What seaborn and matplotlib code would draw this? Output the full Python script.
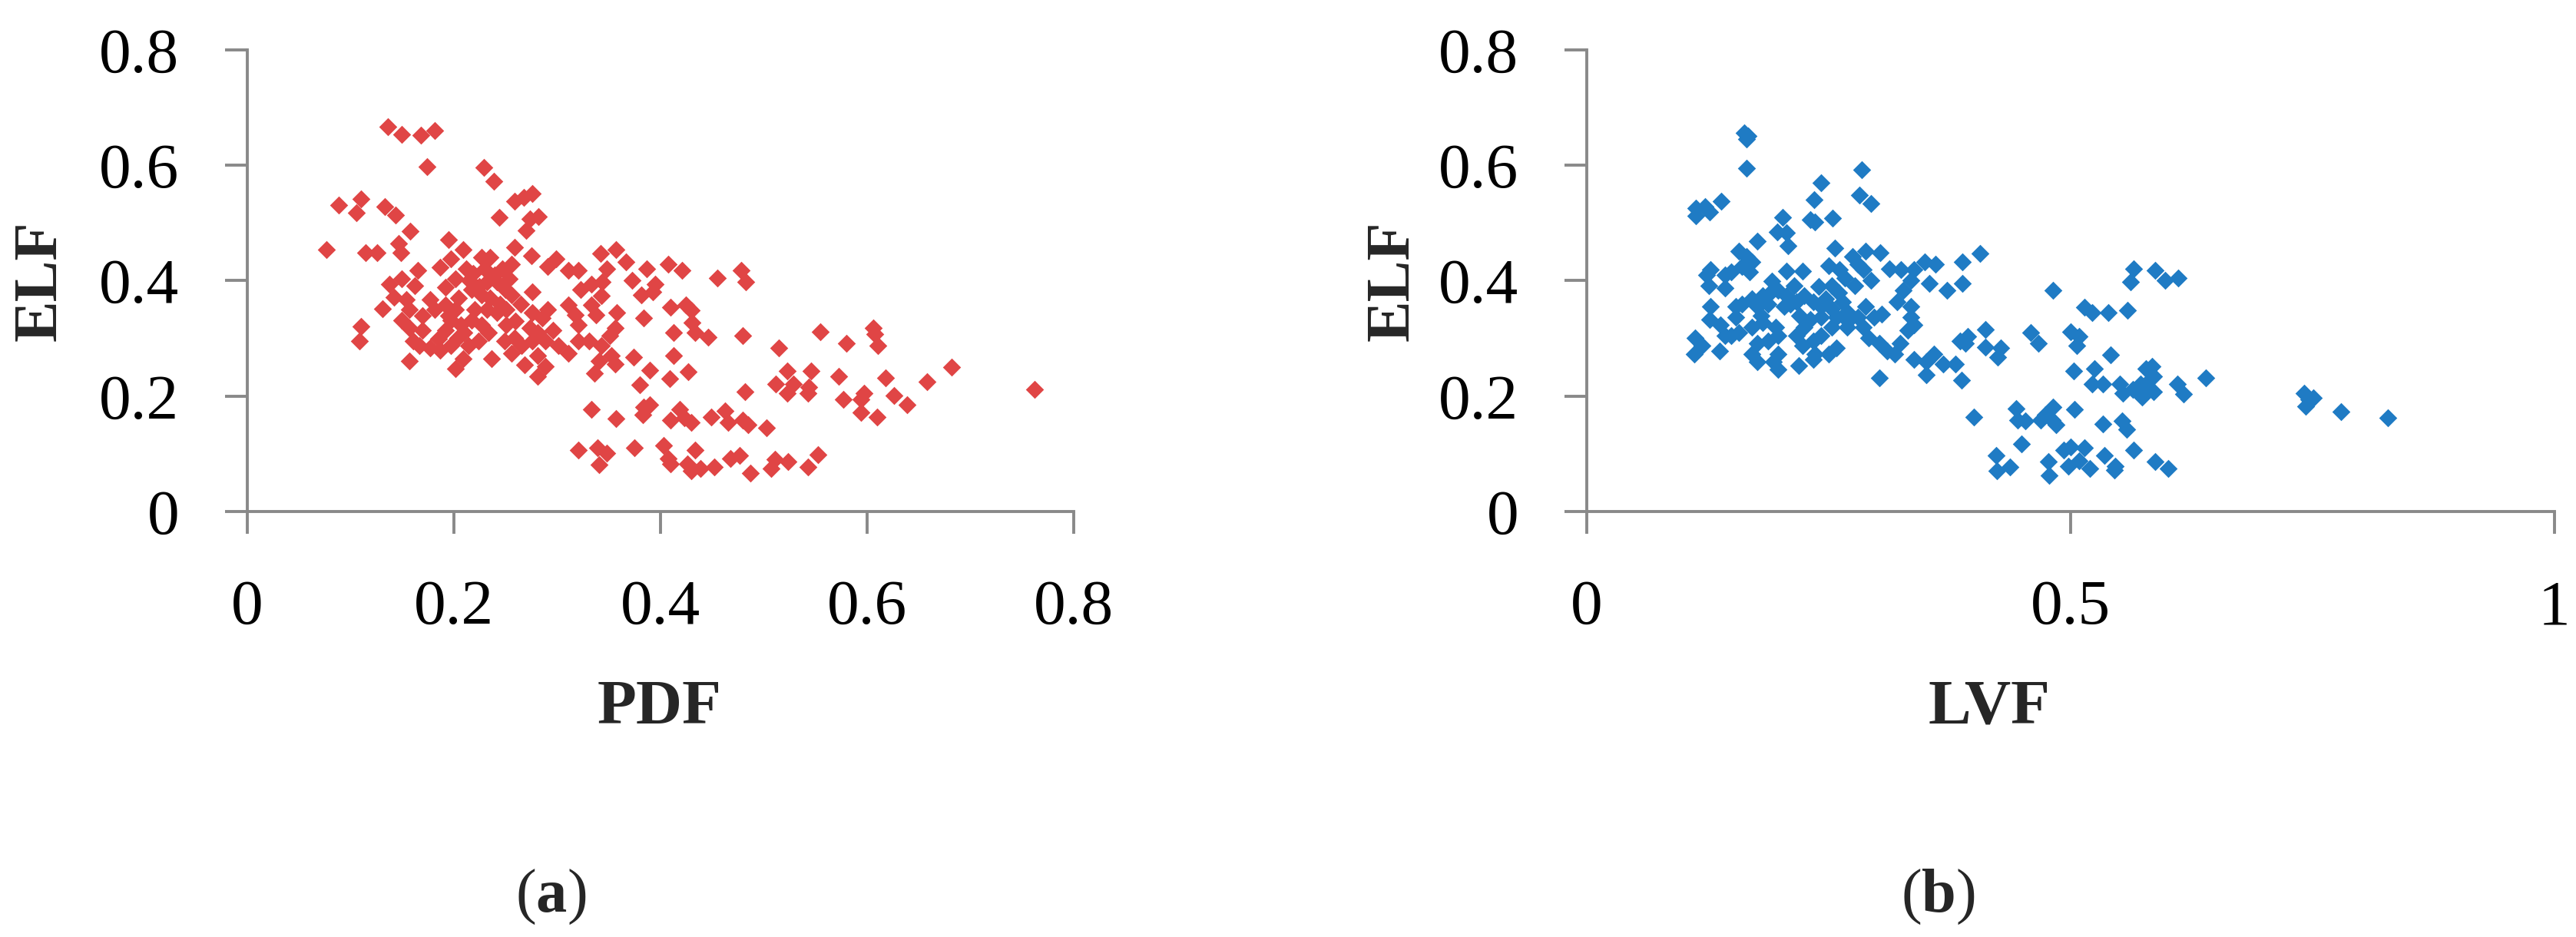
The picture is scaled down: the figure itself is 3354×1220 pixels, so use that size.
import matplotlib
matplotlib.use("Agg")
import matplotlib.pyplot as plt
import seaborn as sns
import pandas as pd

# ---------------- data ----------------
# panel (a): PDF vs ELF
pdf_x = [
    0.136, 0.150, 0.168, 0.182, 0.174, 0.229, 0.239, 0.259, 0.268, 0.276,
    0.244, 0.274, 0.282, 0.270, 0.089, 0.110, 0.106, 0.133, 0.144, 0.158,
    0.077, 0.115, 0.126, 0.147, 0.149, 0.195, 0.209, 0.165, 0.187, 0.197,
    0.227, 0.235, 0.259, 0.275, 0.247, 0.256, 0.291, 0.299, 0.311, 0.321,
    0.342, 0.357, 0.367, 0.348, 0.408, 0.387, 0.373, 0.395, 0.382, 0.393,
    0.323, 0.333, 0.344, 0.343, 0.333, 0.338, 0.358, 0.356, 0.351, 0.384,
    0.410, 0.413, 0.413, 0.276, 0.138, 0.150, 0.162, 0.142, 0.154, 0.157,
    0.131, 0.110, 0.109, 0.150, 0.157, 0.170, 0.161, 0.177, 0.192, 0.202,
    0.212, 0.219, 0.217, 0.227, 0.232, 0.242, 0.254, 0.256, 0.251, 0.242,
    0.232, 0.202, 0.192, 0.182, 0.197, 0.192, 0.207, 0.217, 0.227, 0.234,
    0.224, 0.214, 0.204, 0.197, 0.187, 0.177, 0.167, 0.157, 0.202, 0.209,
    0.237, 0.251, 0.259, 0.266, 0.256, 0.249, 0.276, 0.291, 0.286, 0.274,
    0.281, 0.296, 0.289, 0.276, 0.301, 0.311, 0.281, 0.289, 0.269, 0.281,
    0.311, 0.318, 0.321, 0.321, 0.331, 0.343, 0.353, 0.341, 0.356, 0.336,
    0.374, 0.390, 0.409, 0.380, 0.333, 0.357, 0.384, 0.390, 0.383, 0.410,
    0.321, 0.339, 0.348, 0.341, 0.375, 0.403, 0.408, 0.410,
    0.215, 0.225, 0.235, 0.245, 0.205, 0.220, 0.230, 0.240, 0.250, 0.195,
    0.210, 0.260, 0.265, 0.185, 0.170,
    0.421, 0.455, 0.478, 0.483, 0.425, 0.430, 0.431, 0.434, 0.446, 0.480,
    0.427, 0.555, 0.580, 0.606, 0.608, 0.611, 0.515, 0.523, 0.546, 0.512,
    0.529, 0.544, 0.523, 0.543, 0.482, 0.573, 0.618, 0.658, 0.682, 0.762,
    0.577, 0.597, 0.594, 0.626, 0.639, 0.594, 0.610, 0.419, 0.423, 0.430,
    0.449, 0.463, 0.466, 0.480, 0.485, 0.503, 0.434, 0.426, 0.430, 0.439,
    0.452, 0.468, 0.477, 0.487, 0.507, 0.511, 0.524, 0.543, 0.553,
]
elf_a = [
    0.667, 0.653, 0.652, 0.660, 0.598, 0.596, 0.573, 0.538, 0.545, 0.551,
    0.510, 0.507, 0.511, 0.487, 0.531, 0.542, 0.518, 0.529, 0.514, 0.486,
    0.454, 0.449, 0.449, 0.465, 0.449, 0.471, 0.454, 0.418, 0.423, 0.438,
    0.440, 0.440, 0.458, 0.443, 0.420, 0.429, 0.425, 0.438, 0.418, 0.418,
    0.447, 0.454, 0.432, 0.420, 0.429, 0.420, 0.400, 0.394, 0.376, 0.381,
    0.385, 0.394, 0.398, 0.374, 0.358, 0.341, 0.345, 0.318, 0.305, 0.336,
    0.354, 0.310, 0.270, 0.381, 0.394, 0.403, 0.392, 0.372, 0.367, 0.350,
    0.352, 0.321, 0.296, 0.332, 0.318, 0.314, 0.296, 0.367, 0.389, 0.403,
    0.420, 0.412, 0.385, 0.376, 0.398, 0.398, 0.403, 0.376, 0.350, 0.345,
    0.350, 0.350, 0.358, 0.350, 0.332, 0.314, 0.323, 0.332, 0.323, 0.310,
    0.296, 0.287, 0.301, 0.287, 0.279, 0.283, 0.287, 0.261, 0.248, 0.265,
    0.265, 0.323, 0.301, 0.287, 0.274, 0.296, 0.345, 0.350, 0.336, 0.318,
    0.310, 0.314, 0.296, 0.296, 0.287, 0.274, 0.270, 0.252, 0.254, 0.234,
    0.358, 0.341, 0.323, 0.296, 0.296, 0.287, 0.270, 0.261, 0.256, 0.239,
    0.267, 0.245, 0.230, 0.219, 0.177, 0.161, 0.181, 0.185, 0.168, 0.159,
    0.106, 0.110, 0.101, 0.081, 0.110, 0.114, 0.092, 0.083,
    0.400, 0.390, 0.370, 0.360, 0.370, 0.350, 0.420, 0.410, 0.385, 0.340,
    0.310, 0.330, 0.360, 0.300, 0.340,
    0.418, 0.404, 0.418, 0.398, 0.358, 0.349, 0.327, 0.310, 0.302, 0.305,
    0.242, 0.312, 0.292, 0.318, 0.307, 0.287, 0.283, 0.244, 0.243, 0.221,
    0.221, 0.216, 0.205, 0.205, 0.208, 0.234, 0.232, 0.225, 0.250, 0.212,
    0.195, 0.205, 0.194, 0.201, 0.185, 0.172, 0.164, 0.177, 0.163, 0.154,
    0.164, 0.174, 0.154, 0.159, 0.150, 0.145, 0.106, 0.083, 0.070, 0.074,
    0.077, 0.092, 0.097, 0.066, 0.074, 0.090, 0.086, 0.077, 0.099,
]

# panel (b): LVF vs ELF
lvf_x = [
    0.163, 0.167, 0.165, 0.165, 0.284, 0.242, 0.235, 0.282, 0.294, 0.113,
    0.122, 0.127, 0.113, 0.139, 0.202, 0.231, 0.236, 0.254, 0.197, 0.206,
    0.208, 0.176, 0.256, 0.288, 0.303, 0.275, 0.280, 0.157, 0.165, 0.171,
    0.160, 0.168, 0.149, 0.143, 0.128, 0.124, 0.126, 0.143, 0.206, 0.223,
    0.250, 0.261, 0.267, 0.253, 0.277, 0.294, 0.286, 0.313, 0.325, 0.338,
    0.349, 0.360, 0.335, 0.327, 0.354, 0.372, 0.388, 0.388, 0.191, 0.214,
    0.198, 0.206, 0.182, 0.171, 0.176, 0.187, 0.204, 0.217, 0.225, 0.234,
    0.242, 0.247, 0.253, 0.264, 0.269, 0.258, 0.253, 0.242, 0.231, 0.225,
    0.128, 0.154, 0.154, 0.127, 0.138, 0.143, 0.157, 0.149, 0.171, 0.182,
    0.195, 0.198, 0.187, 0.176, 0.171, 0.176, 0.198, 0.198, 0.193, 0.217,
    0.223, 0.234, 0.242, 0.236, 0.234, 0.250, 0.258, 0.219, 0.269, 0.280,
    0.288, 0.297, 0.305, 0.286, 0.291, 0.302, 0.310, 0.318, 0.324, 0.321,
    0.335, 0.335, 0.338, 0.332, 0.112, 0.119, 0.111, 0.137, 0.302, 0.338,
    0.351, 0.359, 0.368, 0.351, 0.381, 0.387, 0.386,
    0.190, 0.210, 0.220, 0.260, 0.270, 0.240, 0.180, 0.160,
    0.406, 0.565, 0.562, 0.587, 0.598, 0.611, 0.482, 0.514, 0.522, 0.539,
    0.559, 0.412, 0.394, 0.391, 0.412, 0.428, 0.425, 0.459, 0.467, 0.500,
    0.509, 0.506, 0.541, 0.503, 0.525, 0.522, 0.533, 0.551, 0.554, 0.564,
    0.572, 0.578, 0.584, 0.586, 0.586, 0.574, 0.578, 0.610, 0.617, 0.640,
    0.400, 0.444, 0.445, 0.453, 0.474, 0.482, 0.481, 0.485, 0.469, 0.504,
    0.533, 0.553, 0.558, 0.449, 0.423, 0.424, 0.437, 0.477, 0.478, 0.493,
    0.500, 0.514, 0.498, 0.509, 0.520, 0.535, 0.546, 0.545, 0.565, 0.587,
    0.601,
    0.741, 0.746, 0.751, 0.743, 0.779, 0.828,
]
elf_b = [
    0.656, 0.651, 0.645, 0.595, 0.592, 0.570, 0.541, 0.549, 0.534, 0.526,
    0.528, 0.519, 0.513, 0.538, 0.510, 0.506, 0.502, 0.508, 0.485, 0.483,
    0.460, 0.469, 0.456, 0.451, 0.449, 0.442, 0.428, 0.451, 0.442, 0.433,
    0.424, 0.415, 0.415, 0.410, 0.419, 0.410, 0.392, 0.387, 0.417, 0.417,
    0.426, 0.419, 0.405, 0.392, 0.392, 0.401, 0.419, 0.421, 0.419, 0.419,
    0.433, 0.428, 0.401, 0.383, 0.396, 0.383, 0.433, 0.396, 0.399, 0.392,
    0.383, 0.374, 0.374, 0.369, 0.355, 0.360, 0.355, 0.364, 0.374, 0.364,
    0.355, 0.369, 0.351, 0.364, 0.346, 0.337, 0.319, 0.337, 0.333, 0.319,
    0.355, 0.355, 0.337, 0.333, 0.324, 0.305, 0.310, 0.305, 0.319, 0.328,
    0.319, 0.305, 0.296, 0.292, 0.273, 0.260, 0.273, 0.246, 0.260, 0.305,
    0.287, 0.296, 0.305, 0.273, 0.264, 0.273, 0.283, 0.253, 0.319, 0.337,
    0.355, 0.337, 0.342, 0.319, 0.301, 0.292, 0.278, 0.273, 0.292, 0.364,
    0.355, 0.337, 0.324, 0.314, 0.301, 0.287, 0.273, 0.278, 0.232, 0.264,
    0.260, 0.273, 0.255, 0.237, 0.255, 0.228, 0.296,
    0.380, 0.360, 0.340, 0.380, 0.330, 0.390, 0.340, 0.360,
    0.447, 0.420, 0.398, 0.418, 0.400, 0.405, 0.384, 0.354, 0.345, 0.345,
    0.349, 0.316, 0.303, 0.292, 0.285, 0.283, 0.267, 0.310, 0.292, 0.312,
    0.303, 0.287, 0.271, 0.243, 0.247, 0.221, 0.221, 0.221, 0.205, 0.212,
    0.221, 0.247, 0.252, 0.234, 0.207, 0.199, 0.221, 0.221, 0.203, 0.232,
    0.164, 0.179, 0.159, 0.157, 0.168, 0.181, 0.159, 0.150, 0.159, 0.177,
    0.152, 0.157, 0.143, 0.117, 0.097, 0.070, 0.077, 0.086, 0.063, 0.106,
    0.112, 0.110, 0.079, 0.088, 0.074, 0.097, 0.079, 0.072, 0.106, 0.086,
    0.074,
    0.205, 0.194, 0.197, 0.183, 0.173, 0.163,
]

x_ticks_a = [0, 0.2, 0.4, 0.6, 0.8]
x_ticklabels_a = ["0", "0.2", "0.4", "0.6", "0.8"]
x_ticks_b = [0, 0.5, 1]
x_ticklabels_b = ["0", "0.5", "1"]
y_ticks = [0, 0.2, 0.4, 0.6, 0.8]
y_ticklabels = ["0", "0.2", "0.4", "0.6", "0.8"]

df_a = pd.DataFrame({"PDF": pdf_x, "ELF": elf_a})
df_b = pd.DataFrame({"LVF": lvf_x, "ELF": elf_b})

# ---------------- style ----------------
sns.set_style("white")
plt.rcParams["font.family"] = ["Liberation Serif", "DejaVu Serif"]
plt.rcParams["mathtext.fontset"] = "custom"
plt.rcParams["mathtext.rm"] = "Liberation Serif"
plt.rcParams["mathtext.bf"] = "Liberation Serif:bold"

RED = "#E04545"
BLUE = "#1F7BC4"
GRAY = "#898989"

fig = plt.figure(figsize=(16.77, 6.10), dpi=200)
ax_a = fig.add_axes([0.09591, 0.45410, 0.32081, 0.49262])
ax_b = fig.add_axes([0.61598, 0.45410, 0.37567, 0.49262])

sns.scatterplot(data=df_a, x="PDF", y="ELF", ax=ax_a, marker="D", s=36,
                color=RED, linewidth=0, legend=False, clip_on=False)
sns.scatterplot(data=df_b, x="LVF", y="ELF", ax=ax_b, marker="D", s=36,
                color=BLUE, linewidth=0, legend=False, clip_on=False)


def style(ax, xt, xtl, xlim, xlabel, xlab_x, ylab_x):
    ax.set_xlim(*xlim)
    ax.set_ylim(0, 0.8)
    ax.set_xticks(xt)
    ax.set_xticklabels(xtl)
    ax.set_yticks(y_ticks)
    ax.set_yticklabels(y_ticklabels)
    for side in ("top", "right"):
        ax.spines[side].set_visible(False)
    for side in ("left", "bottom"):
        ax.spines[side].set_color(GRAY)
        ax.spines[side].set_linewidth(1.4)
    ax.tick_params(axis="both", which="major", bottom=True, left=True,
                   direction="out", length=10.4, width=1.4,
                   color=GRAY, labelcolor="black", labelsize=30, pad=21.5)
    ax.set_xlabel(xlabel, fontsize=30, fontweight="bold")
    ax.xaxis.set_label_coords(xlab_x, -0.426)
    ax.xaxis.label.set_va("center")
    ax.set_ylabel("ELF", fontsize=29, fontweight="bold")
    ax.yaxis.set_label_coords(ylab_x, 0.5)
    ax.yaxis.label.set_va("center")
    ax.yaxis.label.set_ha("center")
    ax.set_facecolor("white")


style(ax_a, x_ticks_a, x_ticklabels_a, (0, 0.8), "PDF", 0.4994, -0.2493)
style(ax_b, x_ticks_b, x_ticklabels_b, (0, 1.0), "LVF", 0.416, -0.200)

fig.text(0.2138, 0.0426, r"($\mathbf{a}$)", fontsize=29, ha="center", va="center")
fig.text(0.7525, 0.0426, r"($\mathbf{b}$)", fontsize=29, ha="center", va="center")

fig.savefig("out.png", dpi=200, facecolor="white")
